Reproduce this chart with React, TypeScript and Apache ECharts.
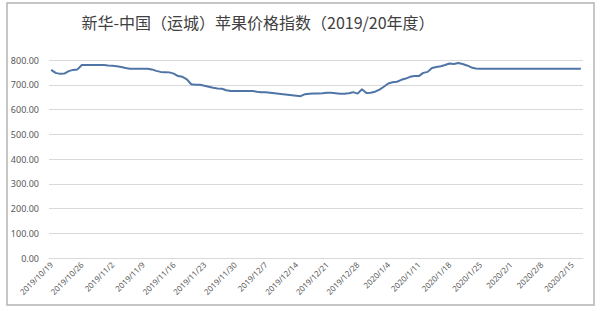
import React, { useEffect, useRef } from "react";
import * as echarts from "echarts";

const TITLE = "新华-中国（运城）苹果价格指数（2019/20年度）";
const START_DATE = [2019, 10, 19];
const DAY_COUNT = 122;
const Y_TICKS = [0, 100, 200, 300, 400, 500, 600, 700, 800];

const valuesOct = [760, 748, 744, 745, 755, 760, 762, 780, 780, 780, 780, 780, 780];
const valuesNov = [
  778, 777, 775, 772, 768, 765, 765, 765, 765, 765, 762, 756, 752, 751, 750,
  745, 735, 732, 722, 702, 700, 700, 696, 692, 688, 685, 684, 678, 675, 675,
];
const valuesDec = [
  675, 675, 675, 675, 672, 670, 670, 668, 666, 664, 662, 660, 658, 656, 654,
  662, 664, 665, 665, 666, 668, 668, 666, 664, 664, 666, 670, 664, 682, 667, 668,
];
const valuesJan = [
  672, 680, 692, 705, 710, 712, 720, 725, 732, 735, 735, 748, 752, 768, 772,
  775, 780, 786, 784, 788, 784, 778, 770, 766, 765, 765, 765, 765, 765, 765, 765,
];
const valuesFeb = [765, 765, 765, 765, 765, 765, 765, 765, 765, 765, 765, 765, 765, 765, 765, 765, 765];

const values = [...valuesOct, ...valuesNov, ...valuesDec, ...valuesJan, ...valuesFeb];

function buildDates(): string[] {
  const out: string[] = [];
  const d = new Date(START_DATE[0], START_DATE[1] - 1, START_DATE[2]);
  for (let i = 0; i < DAY_COUNT; i++) {
    out.push(`${d.getFullYear()}/${d.getMonth() + 1}/${d.getDate()}`);
    d.setDate(d.getDate() + 1);
  }
  return out;
}
const dates = buildDates();

export default function App() {
  const ref = useRef<HTMLDivElement>(null);
  useEffect(() => {
    if (!ref.current) return;
    const chart = echarts.init(ref.current, null, { renderer: "svg" });
    chart.setOption({
      animation: false,
      backgroundColor: "#ffffff",
      graphic: [
        {
          type: "rect",
          shape: { x: 7, y: 3, width: 587, height: 302 },
          style: { fill: "none", stroke: "#b4b4b4", lineWidth: 1.5 },
          silent: true,
        },
        {
          type: "text",
          x: 258,
          y: 22,
          style: {
            text: TITLE,
            align: "center",
            verticalAlign: "middle",
            fontSize: 16,
            fill: "#404040",
            fontFamily: "Noto Sans CJK SC",
          },
        },
      ],
      grid: { left: 49, right: 17, top: 60, bottom: 53, containLabel: false },
      xAxis: {
        type: "category",
        data: dates,
        boundaryGap: true,
        axisLine: { show: true, lineStyle: { color: "#d9d9d9", width: 1 } },
        axisTick: { show: false },
        axisLabel: {
          interval: 6,
          rotate: 45,
          fontSize: 8,
          color: "#595959",
          margin: 5,
          fontFamily: "Noto Sans",
        },
        splitLine: { show: false },
      },
      yAxis: {
        type: "value",
        min: Y_TICKS[0],
        max: Y_TICKS[Y_TICKS.length - 1],
        interval: 100,
        axisLine: { show: false },
        axisTick: { show: false },
        axisLabel: {
          formatter: (v: number) => v.toFixed(2),
          fontSize: 9,
          color: "#595959",
          margin: 10,
          fontFamily: "Noto Sans",
        },
        splitLine: { lineStyle: { color: "#d9d9d9", width: 1 } },
      },
      series: [
        {
          type: "line",
          data: values,
          showSymbol: false,
          symbol: "none",
          lineStyle: { color: "#4f74a6", width: 2 },
          itemStyle: { color: "#4f74a6" },
        },
      ],
    });
    return () => chart.dispose();
  }, []);
  return (
    <div
      ref={ref}
      style={{ position: "fixed", left: 0, top: 0, width: 600, height: 311 }}
    />
  );
}
